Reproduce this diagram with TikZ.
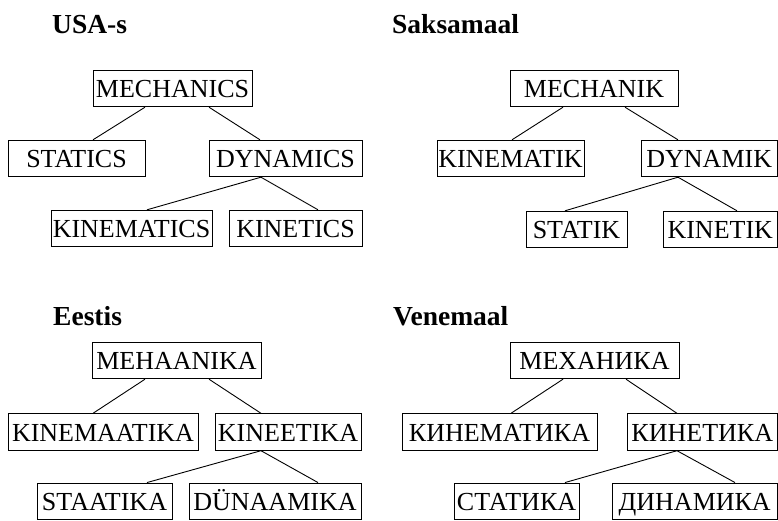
\documentclass[tikz,border=0pt]{standalone}
\usepackage{fontspec}
\setmainfont{Liberation Serif}
\begin{document}
\begin{tikzpicture}[x=1pt,y=-1pt,
  box/.style={draw, line width=0.9pt, inner sep=0pt, minimum height=36.5pt,
    text height=18.5pt, text depth=0pt, font=\fontsize{26}{29}\selectfont},
  title/.style={anchor=base west, inner sep=0pt, font=\bfseries\fontsize{27.5}{30}\selectfont},
  link/.style={line width=0.9pt}]
\useasboundingbox (0,0) rectangle (778,520);

% titles
\node[title] (h1) at (52,33) {USA-s};
\node[title] (h2) at (392,33) {Saksamaal};
\node[title] (h3) at (53,325) {Eestis};
\node[title] (h4) at (393,325) {Venemaal};

% tree 1
\node[box, minimum width=159pt] (r1) at (172.5,88.5) {MECHANICS};
\node[box, minimum width=137pt] (a1) at (76.5,158.5) {STATICS};
\node[box, minimum width=153pt] (b1) at (285.5,158.5) {DYNAMICS};
\node[box, minimum width=161pt] (c1) at (131.5,228.5) {KINEMATICS};
\node[box, minimum width=133pt] (d1) at (295.5,228.5) {KINETICS};
\draw[link] ([xshift=-27.5pt]r1.south) -- ([xshift=16.5pt]a1.north);
\draw[link] ([xshift=36.5pt]r1.south) -- ([xshift=-25.5pt]b1.north);
\draw[link] ([xshift=-24.5pt]b1.south) -- ([xshift=15.5pt]c1.north);
\draw[link] ([xshift=-24.5pt]b1.south) -- ([xshift=22.5pt]d1.north);

% tree 2
\node[box, minimum width=168pt] (r2) at (594,88.5) {MECHANIK};
\node[box, minimum width=147pt] (a2) at (510.5,158.5) {KINEMATIK};
\node[box, minimum width=136.5pt] (b2) at (709.25,158.5) {DYNAMIK};
\node[box, minimum width=101pt] (c2) at (576.5,229.5) {STATIK};
\node[box, minimum width=114.5pt] (d2) at (720.25,229.5) {KINETIK};
\draw[link] ([xshift=-31pt]r2.south) -- ([xshift=1.5pt]a2.north);
\draw[link] ([xshift=31pt]r2.south) -- ([xshift=-31.25pt]b2.north);
\draw[link] ([xshift=-31.25pt]b2.south) -- ([xshift=-11.5pt]c2.north);
\draw[link] ([xshift=-31.25pt]b2.south) -- ([xshift=16.75pt]d2.north);

% tree 3
\node[box, minimum width=169pt] (r3) at (176.5,360.5) {MEHAANIKA};
\node[box, minimum width=190pt] (a3) at (103,432) {KINEMAATIKA};
\node[box, minimum width=146pt] (b3) at (288,432) {KINEETIKA};
\node[box, minimum width=135pt] (c3) at (104.5,501.25) {STAATIKA};
\node[box, minimum width=172pt] (d3) at (275,501.25) {DÜNAAMIKA};
\draw[link] ([xshift=-31.5pt]r3.south) -- ([xshift=-10pt]a3.north);
\draw[link] ([xshift=32.5pt]r3.south) -- ([xshift=-27pt]b3.north);
\draw[link] ([xshift=-27pt]b3.south) -- ([xshift=42.5pt]c3.north);
\draw[link] ([xshift=-27pt]b3.south) -- ([xshift=43pt]d3.north);

% tree 4
\node[box, minimum width=169pt] (r4) at (594.5,360.5) {МЕХАНИКА};
\node[box, minimum width=195pt] (a4) at (499.5,432) {КИНЕМАТИКА};
\node[box, minimum width=150.5pt] (b4) at (702.25,432) {КИНЕТИКА};
\node[box, minimum width=125pt] (c4) at (516.5,501.25) {СТАТИКА};
\node[box, minimum width=165.5pt] (d4) at (694.75,501.25) {ДИНАМИКА};
\draw[link] ([xshift=-31.5pt]r4.south) -- ([xshift=11.5pt]a4.north);
\draw[link] ([xshift=31.5pt]r4.south) -- ([xshift=-25.25pt]b4.north);
\draw[link] ([xshift=-25.25pt]b4.south) -- ([xshift=48.5pt]c4.north);
\draw[link] ([xshift=-25.25pt]b4.south) -- ([xshift=40.25pt]d4.north);
\end{tikzpicture}
\end{document}
